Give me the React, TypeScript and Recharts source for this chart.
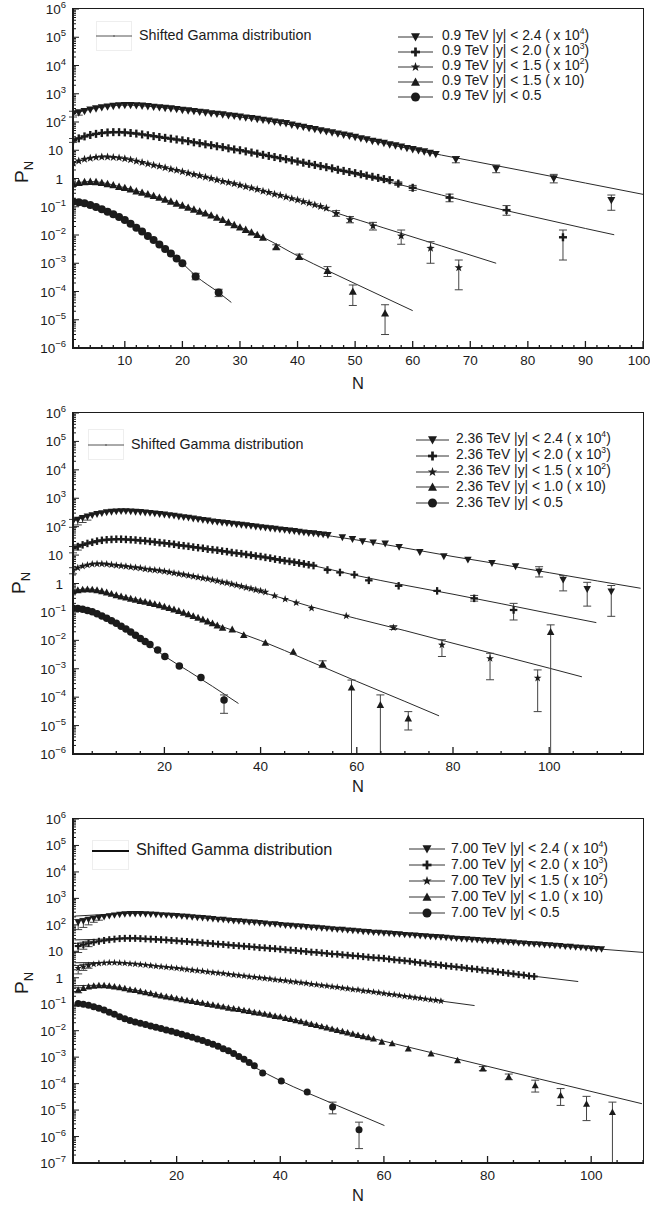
import React from "react";
import { ComposedChart, Line, Scatter, XAxis, YAxis, ErrorBar } from "recharts";

const FONT = '"Liberation Sans", Arial, Helvetica, sans-serif';
const INK = "#1b1b1b";

const run = (a: number, b: number) => Array.from({ length: b - a + 1 }, (_, i) => a + i);

// ---------- 0.9 TeV ----------
const n09a = [...run(1, 64), 67.5, 74.5, 84.5, 94.5];
const p09a = [195, 214, 240, 269, 295, 324, 347, 363, 380, 389, 389, 380, 372, 355, 339, 324, 309, 295, 282, 263, 251, 240, 224, 214, 200, 191, 182, 170, 162, 151, 141, 135, 126, 117, 110, 102, 95, 89, 79, 72, 66, 60, 55, 50, 46, 42, 38, 35, 32, 29, 26, 24, 21, 19.5, 17.8, 15.8, 14.5, 13.2, 11.7, 10.7, 9.8, 8.9, 7.9, 7.2, 4.7, 2.2, 1.0, 0.17];
const err09a = [[1, 150, 240], [2, 175, 255], [67.5, 3.6, 6.0], [74.5, 1.6, 3.0], [84.5, 0.7, 1.4], [94.5, 0.075, 0.26]];
const fit09a = [[1, 200], [5, 309], [10, 398], [15, 347], [20, 269], [30, 151], [40, 72], [50, 29], [60, 10.7], [70, 4.3], [80, 1.74], [90, 0.69], [100, 0.275]];

const n09b = [...run(1, 56), 57.5, 60, 66.4, 76.3, 86.1];
const p09b = [22.4, 26.3, 30.9, 34.7, 38.0, 40.7, 42.7, 43.7, 43.7, 42.7, 40.7, 38.9, 36.3, 33.9, 31.6, 29.5, 27.5, 25.7, 24.0, 22.4, 20.9, 19.1, 17.8, 16.2, 15.1, 13.8, 12.9, 11.7, 10.7, 10.0, 9.1, 8.3, 7.6, 6.9, 6.3, 5.75, 5.25, 4.8, 4.37, 3.98, 3.63, 3.31, 3.02, 2.75, 2.51, 2.29, 2.04, 1.86, 1.70, 1.55, 1.41, 1.26, 1.15, 1.05, 0.95, 0.87, 0.66, 0.47, 0.21, 0.076, 0.0083];
const err09b = [[1, 19, 26], [57.5, 0.57, 0.76], [60, 0.38, 0.57], [66.4, 0.15, 0.28], [76.3, 0.05, 0.11], [86.1, 0.0013, 0.015]];
const fit09b = [[1, 22.4], [5, 38], [9, 44.7], [15, 31.6], [20, 22.4], [30, 10], [40, 4.0], [50, 1.41], [60, 0.47], [70, 0.145], [80, 0.049], [90, 0.017], [95, 0.0102]];

const n09c = [...run(1, 45), 46.7, 49.1, 53.1, 58, 63.1, 68];
const p09c = [3.5, 4.2, 4.8, 5.2, 5.6, 5.8, 5.8, 5.6, 5.4, 5.0, 4.6, 4.1, 3.7, 3.3, 2.95, 2.7, 2.4, 2.14, 1.95, 1.74, 1.55, 1.38, 1.26, 1.12, 1.0, 0.89, 0.79, 0.72, 0.65, 0.58, 0.51, 0.46, 0.41, 0.355, 0.32, 0.28, 0.25, 0.22, 0.195, 0.174, 0.151, 0.135, 0.117, 0.102, 0.089, 0.058, 0.035, 0.021, 0.0092, 0.0034, 0.0007];
const err09c = [[46.7, 0.046, 0.073], [49.1, 0.027, 0.045], [53.1, 0.015, 0.028], [58, 0.0047, 0.015], [63.1, 0.001, 0.0058], [68, 0.000115, 0.0013]];
const fit09c = [[1, 3.5], [6, 5.8], [10, 5.0], [15, 2.95], [20, 1.74], [25, 1.0], [30, 0.58], [35, 0.32], [40, 0.174], [47, 0.058], [55, 0.0178], [65, 0.0041], [74.5, 0.001]];

const n09d = [...run(1, 34), 36.3, 40.3, 45.2, 49.6, 55.2];
const p09d = [0.66, 0.72, 0.76, 0.78, 0.76, 0.71, 0.65, 0.59, 0.52, 0.47, 0.42, 0.36, 0.32, 0.28, 0.245, 0.214, 0.182, 0.155, 0.132, 0.112, 0.095, 0.081, 0.069, 0.059, 0.050, 0.042, 0.035, 0.028, 0.023, 0.019, 0.0155, 0.0126, 0.0102, 0.0083, 0.0038, 0.0017, 0.00055, 1.0e-4, 1.7e-5];
const err09d = [[36.3, 0.0032, 0.0045], [40.3, 0.0014, 0.0021], [45.2, 0.00034, 0.00076], [49.6, 3.2e-5, 1.7e-4], [55.2, 3e-6, 3.4e-5]];
const fit09d = [[1, 0.66], [4, 0.78], [10, 0.47], [20, 0.112], [25, 0.05], [30, 0.019], [34, 0.0083], [40.3, 0.0017], [45.2, 5.5e-4], [50, 1.9e-4], [55, 6.3e-5], [60, 2.1e-5]];

const n09e = [...run(1, 20), 22.3, 26.3];
const p09e = [0.151, 0.145, 0.132, 0.115, 0.098, 0.081, 0.066, 0.054, 0.043, 0.034, 0.025, 0.018, 0.0132, 0.0093, 0.0066, 0.0046, 0.0032, 0.0022, 0.00148, 0.0010, 3.4e-4, 9.2e-5];
const err09e = [[22.3, 2.6e-4, 4.4e-4], [26.3, 6.6e-5, 1.2e-4]];
const fit09e = [[1, 0.151], [5, 0.098], [10, 0.034], [15, 0.0066], [20, 0.001], [22.3, 3.6e-4], [26.3, 9.2e-5], [28.5, 4.1e-5]];

// ---------- 2.36 TeV ----------
const n236a = [...run(1, 54), 57, 59.1, 61.2, 63.4, 65.9, 68.8, 73.1, 78.1, 83.1, 88.1, 93, 97.9, 102.9, 107.9, 112.9];
const p236a = [151, 174, 200, 224, 251, 275, 295, 316, 331, 339, 347, 347, 339, 331, 324, 309, 302, 288, 275, 263, 251, 240, 224, 214, 204, 191, 182, 170, 162, 151, 145, 138, 132, 126, 120, 115, 110, 105, 100, 95, 91, 87, 83, 79, 76, 72, 69, 65, 62, 59, 57.5, 55, 52.5, 50, 41.7, 36.3, 30.2, 27.5, 25.1, 19.1, 12.6, 8.9, 6.8, 5.2, 4.0, 2.6, 1.35, 0.63, 0.52];
const err236a = [[1, 95, 180], [2, 115, 200], [3, 140, 225], [4, 170, 250], [97.9, 1.7, 3.9], [102.9, 0.55, 1.9], [107.9, 0.16, 1.1], [112.9, 0.07, 0.85]];
const fit236a = [[1, 158], [5, 263], [10, 355], [13, 363], [20, 275], [30, 158], [40, 98], [50, 60], [60, 34], [70, 17.8], [80, 8.9], [90, 4.7], [100, 2.4], [110, 1.23], [119, 0.68]];

const n236b = [...run(1, 51), 53.9, 56.5, 59.5, 62.5, 68.7, 76.7, 84.4, 92.6];
const p236b = [17.4, 20.0, 22.9, 25.7, 28.2, 30.9, 33.1, 34.7, 35.5, 36.3, 36.3, 35.5, 34.7, 33.9, 32.4, 31.6, 30.2, 28.8, 27.5, 26.3, 25.1, 24.0, 22.4, 21.4, 20.4, 19.1, 18.2, 17.4, 16.2, 15.5, 14.8, 13.8, 13.2, 12.3, 11.7, 11.2, 10.5, 10.0, 9.3, 8.9, 8.3, 7.8, 7.2, 6.8, 6.3, 6.0, 5.6, 5.25, 4.9, 4.57, 4.27, 3.0, 2.45, 2.04, 1.29, 0.83, 0.55, 0.30, 0.117];
const err236b = [[1, 12, 20], [2, 15, 23], [84.4, 0.24, 0.38], [92.6, 0.052, 0.2]];
const fit236b = [[1, 17.4], [5, 28.2], [10, 36.3], [20, 26.3], [30, 15.5], [40, 8.9], [50, 4.6], [60, 1.9], [70, 0.87], [80, 0.42], [90, 0.195], [100, 0.089], [109.8, 0.042]];

const n236c = [...run(1, 41), 42.9, 45.1, 47.4, 50.6, 57.8, 67.6, 77.7, 87.7, 97.6];
const p236c = [3.0, 3.55, 4.07, 4.47, 4.79, 4.9, 4.9, 4.79, 4.57, 4.37, 4.17, 3.98, 3.8, 3.63, 3.47, 3.24, 3.09, 2.95, 2.82, 2.69, 2.51, 2.34, 2.19, 2.04, 1.91, 1.78, 1.66, 1.55, 1.45, 1.35, 1.23, 1.12, 1.05, 0.95, 0.87, 0.79, 0.72, 0.66, 0.60, 0.55, 0.50, 0.37, 0.28, 0.21, 0.135, 0.072, 0.028, 0.0069, 0.0023, 0.00047];
const err236c = [[1, 2.2, 3.6], [67.6, 0.024, 0.033], [77.7, 0.0027, 0.0105], [87.7, 0.00041, 0.0035], [97.6, 3.1e-5, 9.1e-4]];
const fit236c = [[1, 3.0], [6, 5.0], [10, 4.37], [20, 2.69], [30, 1.35], [40, 0.51], [50, 0.162], [60, 0.058], [70, 0.022], [80, 0.0079], [90, 0.0029], [100, 0.00105], [106.8, 0.00052]];

const n236d = [...run(1, 31), 32.1, 34.1, 36.5, 41, 46.8, 52.9, 58.9, 64.9, 70.7, 100.3];
const p236d = [0.55, 0.59, 0.62, 0.63, 0.62, 0.59, 0.54, 0.49, 0.44, 0.39, 0.355, 0.324, 0.295, 0.269, 0.245, 0.229, 0.209, 0.191, 0.174, 0.155, 0.138, 0.123, 0.110, 0.095, 0.083, 0.072, 0.063, 0.055, 0.047, 0.040, 0.034, 0.028, 0.0245, 0.0155, 0.0083, 0.0040, 0.0015, 0.00022, 5.4e-5, 1.8e-5, 0.020];
const err236d = [[52.9, 0.0011, 0.0019], [58.9, 1e-6, 4.0e-4], [64.9, 1e-6, 1.2e-4], [70.7, 7e-6, 3.1e-5], [100.3, 1e-6, 0.035]];
const fit236d = [[1, 0.55], [4, 0.64], [10, 0.39], [20, 0.155], [30, 0.040], [40, 0.0098], [50, 0.0019], [60, 3.6e-4], [70, 7.1e-5], [77.1, 2.2e-5]];

const n236e = [...run(1, 17), 18.6, 20.1, 23.1, 27.6, 32.4];
const p236e = [0.135, 0.132, 0.123, 0.112, 0.102, 0.087, 0.072, 0.060, 0.049, 0.040, 0.0316, 0.0251, 0.0195, 0.0151, 0.0117, 0.0091, 0.0071, 0.0046, 0.0027, 0.00126, 0.00049, 7.9e-5];
const err236e = [[32.4, 2.7e-5, 1.2e-4]];
const fit236e = [[1, 0.135], [5, 0.102], [10, 0.040], [15, 0.0117], [20, 0.0028], [25, 8.3e-4], [30, 2.4e-4], [35.4, 6.0e-5]];

// ---------- 7.00 TeV ----------
const n700a = run(1, 102);
const p700a = [123, 138, 155, 170, 186, 200, 214, 229, 240, 251, 257, 257, 257, 251, 245, 240, 234, 229, 224, 219, 209, 204, 195, 186, 182, 174, 166, 158, 155, 148, 141, 138, 132, 126, 123, 117, 112, 107, 105, 100, 95, 93, 89, 87, 83, 79, 78, 74, 72, 69, 66, 65, 62, 60, 58, 55, 54, 51, 50, 48, 47, 45, 44, 42, 41, 40, 38, 37, 35.5, 34.7, 33.9, 32.4, 31.6, 30.2, 29.5, 28.8, 27.5, 26.9, 25.7, 25.1, 24.5, 23.4, 22.9, 21.9, 21.4, 20.4, 20.0, 19.1, 18.6, 18.2, 17.4, 17.0, 16.2, 15.8, 15.1, 14.8, 14.1, 13.8, 13.2, 12.9, 12.3, 12.0];
const err700a = [[1, 66, 160], [2, 80, 175], [3, 100, 190], [4, 125, 205], [5, 150, 215]];
const fit700a = [[0.3, 214], [5, 240], [10, 269], [14, 275], [20, 224], [30, 148], [40, 100], [60, 49], [80, 25.1], [100, 12.9], [110, 9.1]];

const n700b = run(1, 89);
const p700b = [15.8, 17.8, 20.0, 21.9, 24.0, 25.7, 27.5, 28.8, 30.2, 30.9, 30.9, 30.9, 30.2, 29.5, 28.8, 28.2, 27.5, 26.9, 25.7, 25.1, 24.0, 23.4, 22.4, 21.9, 20.9, 20.0, 19.5, 18.6, 18.2, 17.4, 16.6, 16.2, 15.5, 15.1, 14.5, 13.8, 13.5, 12.9, 12.6, 12.0, 11.5, 11.0, 10.7, 10.2, 9.8, 9.3, 9.1, 8.7, 8.3, 7.9, 7.8, 7.4, 7.1, 6.8, 6.6, 6.3, 6.0, 5.75, 5.6, 5.4, 5.1, 4.8, 4.6, 4.4, 4.2, 3.9, 3.7, 3.55, 3.3, 3.16, 3.0, 2.8, 2.7, 2.57, 2.45, 2.29, 2.19, 2.09, 1.95, 1.86, 1.78, 1.66, 1.58, 1.48, 1.41, 1.32, 1.26, 1.17, 1.12];
const err700b = [[1, 9, 20], [2, 12, 22], [3, 15, 24]];
const fit700b = [[0.3, 27], [4, 28], [8, 30.5], [12, 31.6], [20, 25.7], [40, 12], [60, 5.4], [80, 1.86], [97.5, 0.72]];

const n700c = run(1, 71);
const p700c = [2.29, 2.63, 2.95, 3.24, 3.47, 3.63, 3.72, 3.72, 3.63, 3.55, 3.39, 3.31, 3.16, 3.02, 2.88, 2.75, 2.63, 2.51, 2.40, 2.29, 2.19, 2.04, 1.95, 1.86, 1.78, 1.66, 1.58, 1.51, 1.45, 1.35, 1.29, 1.23, 1.17, 1.10, 1.05, 1.0, 0.95, 0.91, 0.85, 0.81, 0.78, 0.72, 0.69, 0.65, 0.62, 0.575, 0.55, 0.51, 0.49, 0.46, 0.44, 0.41, 0.39, 0.36, 0.35, 0.32, 0.31, 0.29, 0.275, 0.257, 0.24, 0.23, 0.214, 0.20, 0.19, 0.178, 0.17, 0.158, 0.148, 0.141, 0.132];
const err700c = [[1, 1.4, 2.9], [2, 1.9, 3.2], [3, 2.3, 3.4]];
const fit700c = [[0.3, 3.7], [7, 3.8], [20, 2.29], [40, 0.81], [60, 0.257], [77.5, 0.089]];

const n700d = [...run(1, 58), 59.6, 61.6, 64.7, 69.1, 74.2, 79.1, 84.1, 89.2, 94.1, 99.1, 104.1];
const p700d = [0.35, 0.41, 0.47, 0.50, 0.52, 0.52, 0.50, 0.47, 0.44, 0.40, 0.36, 0.34, 0.31, 0.28, 0.26, 0.234, 0.214, 0.195, 0.182, 0.166, 0.155, 0.141, 0.132, 0.120, 0.112, 0.102, 0.095, 0.087, 0.081, 0.074, 0.069, 0.065, 0.059, 0.055, 0.050, 0.047, 0.043, 0.040, 0.036, 0.034, 0.030, 0.0275, 0.0245, 0.0224, 0.020, 0.0178, 0.0162, 0.0145, 0.0132, 0.0117, 0.0105, 0.0095, 0.0085, 0.0076, 0.0069, 0.0062, 0.0056, 0.0050, 0.0038, 0.0033, 0.0021, 0.00138, 7.6e-4, 3.7e-4, 1.8e-4, 8.7e-5, 3.6e-5, 1.74e-5, 8.5e-6];
const err700d = [[1, 0.27, 0.42], [79.1, 3.1e-4, 4.4e-4], [84.1, 1.4e-4, 2.3e-4], [89.2, 4.8e-5, 1.35e-4], [94.1, 1.5e-5, 6.5e-5], [99.1, 4e-6, 3.3e-5], [104.1, 1e-7, 2.0e-5]];
const fit700d = [[0.3, 0.5], [5, 0.52], [10, 0.40], [20, 0.166], [40, 0.034], [58, 0.005], [70, 0.00135], [90, 1.5e-4], [109.8, 1.74e-5]];

const n700e = [...run(1, 35), 36.6, 40.2, 45.2, 50.1, 55.2];
const p700e = [0.107, 0.100, 0.091, 0.081, 0.071, 0.060, 0.050, 0.042, 0.034, 0.028, 0.0245, 0.0214, 0.019, 0.017, 0.0151, 0.0135, 0.012, 0.0107, 0.0095, 0.0083, 0.0074, 0.0065, 0.0056, 0.0049, 0.0043, 0.0036, 0.0031, 0.0026, 0.0021, 0.00174, 0.00138, 0.00107, 0.00083, 0.00063, 0.00047, 2.5e-4, 1.26e-4, 4.8e-5, 1.3e-5, 1.8e-6];
const err700e = [[50.1, 7.2e-6, 2.0e-5], [55.2, 3.5e-7, 3.5e-6]];
const fit700e = [[0.3, 0.112], [5, 0.071], [10, 0.028], [20, 0.0083], [30, 0.0017], [35, 4.2e-4], [40, 1.3e-4], [50, 1.8e-5], [60.1, 2.6e-6]];

// legend texts
const legend09 = [
  ["0.9 TeV |y| < 2.4 ( x 10", "4", ")"],
  ["0.9 TeV |y| < 2.0 ( x 10", "3", ")"],
  ["0.9 TeV |y| < 1.5 ( x 10", "2", ")"],
  ["0.9 TeV |y| < 1.5 ( x 10)", "", ""],
  ["0.9 TeV |y| < 0.5", "", ""],
];
const legend236 = [
  ["2.36 TeV |y| < 2.4 ( x 10", "4", ")"],
  ["2.36 TeV |y| < 2.0 ( x 10", "3", ")"],
  ["2.36 TeV |y| < 1.5 ( x 10", "2", ")"],
  ["2.36 TeV |y| < 1.0 ( x 10)", "", ""],
  ["2.36 TeV |y| < 0.5", "", ""],
];
const legend700 = [
  ["7.00 TeV |y| < 2.4 ( x 10", "4", ")"],
  ["7.00 TeV |y| < 2.0 ( x 10", "3", ")"],
  ["7.00 TeV |y| < 1.5 ( x 10", "2", ")"],
  ["7.00 TeV |y| < 1.0 ( x 10)", "", ""],
  ["7.00 TeV |y| < 0.5", "", ""],
];

const kinds = ["down", "plus", "star", "up", "circle"];

function Marker({ kind, cx, cy, s }: { kind: string; cx: number; cy: number; s: number }) {
  if (cx == null || cy == null) return <g />;
  if (kind === "down")
    return <polygon points={`${cx - s / 2},${cy - s * 0.42} ${cx + s / 2},${cy - s * 0.42} ${cx},${cy + s * 0.5}`} fill={INK} />;
  if (kind === "up")
    return <polygon points={`${cx - s / 2},${cy + s * 0.42} ${cx + s / 2},${cy + s * 0.42} ${cx},${cy - s * 0.5}`} fill={INK} />;
  if (kind === "plus")
    return (
      <g fill={INK}>
        <rect x={cx - s / 2} y={cy - s * 0.15} width={s} height={s * 0.3} />
        <rect x={cx - s * 0.15} y={cy - s / 2} width={s * 0.3} height={s} />
      </g>
    );
  if (kind === "star") {
    const pts: string[] = [];
    for (let i = 0; i < 10; i++) {
      const a = (-90 + i * 36) * (Math.PI / 180);
      const r = i % 2 === 0 ? s * 0.55 : s * 0.22;
      pts.push(`${cx + r * Math.cos(a)},${cy + r * Math.sin(a)}`);
    }
    return <polygon points={pts.join(" ")} fill={INK} />;
  }
  return <circle cx={cx} cy={cy} r={s / 2} fill={INK} />;
}

const toPts = (n: number[], p: number[]) => n.map((x, i) => ({ n: x, p: p[i] }));
const toBars = (e: number[][]) => e.map(([x, lo, hi]) => ({ n: x, p: hi, err: [hi - lo, 0] }));
const toFit = (f: number[][]) => f.map(([x, y]) => ({ n: x, p: y }));

const panels = [
  {
    top: 0, height: 390, T: 9, B: 348, xDomain: [1, 100], yMin: -6, xStep: 2, xMajor: 10, xMax: 100, size: 8,
    series: [[n09a, p09a, err09a, fit09a], [n09b, p09b, err09b, fit09b], [n09c, p09c, err09c, fit09c], [n09d, p09d, err09d, fit09d], [n09e, p09e, err09e, fit09e]],
    legend: legend09, legFont: 13.8,
    gamma: { x: 96, y: 21, w: 36, h: 30, ly: 36, tx: 139, fs: 14.3, thick: false },
    leg: { y0: 36.5, dy: 15.1, x1: 398, x2: 433, tx: 442 },
    ptitle: { x: 22, y: 172 }, ntitle: 383,
  },
  {
    top: 390, height: 400, T: 23, B: 364, xDomain: [1, 119.5], yMin: -6, xStep: 5, xMajor: 20, xMax: 119, size: 7.5,
    series: [[n236a, p236a, err236a, fit236a], [n236b, p236b, err236b, fit236b], [n236c, p236c, err236c, fit236c], [n236d, p236d, err236d, fit236d], [n236e, p236e, err236e, fit236e]],
    legend: legend236, legFont: 13.8,
    gamma: { x: 88, y: 39, w: 36, h: 31, ly: 54.5, tx: 131, fs: 14.3, thick: false },
    leg: { y0: 50, dy: 15.8, x1: 416, x2: 449, tx: 456 },
    ptitle: { x: 19, y: 193 }, ntitle: 396,
  },
  {
    top: 790, height: 417, T: 29, B: 373, xDomain: [0, 110], yMin: -7, xStep: 5, xMajor: 20, xMax: 110, size: 7,
    series: [[n700a, p700a, err700a, fit700a], [n700b, p700b, err700b, fit700b], [n700c, p700c, err700c, fit700c], [n700d, p700d, err700d, fit700d], [n700e, p700e, err700e, fit700e]],
    legend: legend700, legFont: 14,
    gamma: { x: 92, y: 50, w: 37, h: 30, ly: 60.5, tx: 136, fs: 16.3, thick: true },
    leg: { y0: 59, dy: 16, x1: 409, x2: 445, tx: 451 },
    ptitle: { x: 22, y: 193 }, ntitle: 405,
  },
];

const LEFT = 73;
const RIGHT = 643;

function Panel({ cfg }: { cfg: any }) {
  const xTicks: number[] = [];
  for (let v = cfg.xStep; v <= cfg.xMax + 1e-9; v += cfg.xStep) xTicks.push(v);
  const yTicks: number[] = [];
  for (let e = cfg.yMin; e <= 6; e++) {
    yTicks.push(Math.pow(10, e));
    if (e < 6) for (let k = 2; k <= 9; k++) yTicks.push(Number((k * Math.pow(10, e)).toPrecision(3)));
  }

  const XTick = (props: any) => {
    const { x, payload } = props;
    const v = payload.value;
    const major = Math.abs(v % cfg.xMajor) < 1e-6;
    // keep the last label inside the page
    const lx = Math.min(x, 650 - 11);
    return (
      <g>
        <line x1={x} x2={x} y1={cfg.B} y2={cfg.B - (major ? 7 : 3)} stroke={INK} strokeWidth={1.3} />
        {major && (
          <text x={lx} y={cfg.B + 17} textAnchor="middle" fontSize={13.5} fill={INK} fontFamily={FONT}>
            {v}
          </text>
        )}
      </g>
    );
  };

  const YTick = (props: any) => {
    const { y, payload } = props;
    const v = payload.value;
    const lg = Math.log10(v);
    const major = Math.abs(lg - Math.round(lg)) < 1e-6;
    const e = Math.round(lg);
    return (
      <g>
        <line x1={LEFT} x2={LEFT + (major ? 6 : 3)} y1={y} y2={y} stroke={INK} strokeWidth={1} />
        {major &&
          (e === 0 || e === 1 ? (
            <text x={63} y={y + 5} textAnchor="end" fontSize={13.5} fill={INK} fontFamily={FONT}>
              {e === 0 ? "1" : "10"}
            </text>
          ) : (
            <text x={66} y={y + 5} textAnchor="end" fontSize={13.5} fill={INK} fontFamily={FONT}>
              10
              <tspan dy={-6} fontSize={9.5}>
                {e < 0 ? `\u2212${-e}` : `${e}`}
              </tspan>
            </text>
          ))}
      </g>
    );
  };

  const g = cfg.gamma;
  const L = cfg.leg;

  return (
    <div style={{ position: "absolute", left: 0, top: cfg.top, width: 650, height: cfg.height }}>
      <ComposedChart
        width={650}
        height={cfg.height}
        margin={{ top: cfg.T, right: 650 - RIGHT, bottom: cfg.height - cfg.B - 30, left: 13 }}
      >
        <XAxis
          type="number"
          dataKey="n"
          domain={cfg.xDomain}
          allowDataOverflow
          ticks={xTicks}
          interval={0}
          tick={XTick}
          tickLine={false}
          axisLine={false}
          height={30}
          tickSize={0}
          tickMargin={0}
        />
        <YAxis
          type="number"
          dataKey="p"
          scale="log"
          domain={[Math.pow(10, cfg.yMin), 1e6]}
          allowDataOverflow
          ticks={yTicks}
          interval={0}
          tick={YTick}
          tickLine={false}
          axisLine={false}
          width={60}
          tickSize={0}
          tickMargin={0}
        />
        {cfg.series.map((s: any, i: number) => (
          <Line
            key={`fit-${i}`}
            data={toFit(s[3])}
            dataKey="p"
            type="monotone"
            stroke="#2a2a2a"
            strokeWidth={1}
            dot={false}
            activeDot={false}
            isAnimationActive={false}
          />
        ))}
        {cfg.series.map((s: any, i: number) => (
          <Scatter key={`err-${i}`} data={toBars(s[2])} shape={() => <g />} isAnimationActive={false}>
            <ErrorBar dataKey="err" direction="y" width={4} stroke="#444" strokeWidth={1} />
          </Scatter>
        ))}
        {cfg.series.map((s: any, i: number) => (
          <Scatter
            key={`pts-${i}`}
            data={toPts(s[0], s[1])}
            isAnimationActive={false}
            shape={(p: any) => <Marker kind={kinds[i]} cx={p.cx} cy={p.cy} s={cfg.size} />}
          />
        ))}
      </ComposedChart>

      {/* plot frame */}
      <div
        style={{
          position: "absolute",
          left: LEFT - 1,
          top: cfg.T - 1,
          width: RIGHT - LEFT + 2,
          height: cfg.B - cfg.T + 2,
          boxSizing: "border-box",
          borderLeft: `2px solid ${INK}`,
          borderBottom: `2px solid ${INK}`,
          borderTop: `1.5px solid ${INK}`,
          borderRight: `1.5px solid ${INK}`,
        }}
      />

      {/* shifted gamma legend */}
      <div
        style={{
          position: "absolute",
          left: g.x,
          top: g.y,
          width: g.w,
          height: g.h,
          boxSizing: "border-box",
          border: "1px solid #eeeeee",
        }}
      />
      <svg style={{ position: "absolute", left: g.x, top: g.ly - 4 }} width={g.w} height={8}>
        <line x1={0} x2={g.w} y1={4} y2={4} stroke={g.thick ? "#111" : "#555"} strokeWidth={g.thick ? 2 : 1} />
        {!g.thick && <line x1={g.w / 2} x2={g.w / 2} y1={3} y2={5} stroke="#555" strokeWidth={1} />}
      </svg>
      <div
        style={{
          position: "absolute",
          left: g.tx,
          top: g.ly - g.fs * 0.62,
          fontSize: g.fs,
          lineHeight: `${g.fs * 1.2}px`,
          whiteSpace: "nowrap",
          color: INK,
        }}
      >
        Shifted Gamma distribution
      </div>

      {/* series legend */}
      {cfg.legend.map((row: string[], i: number) => {
        const y = L.y0 + i * L.dy;
        return (
          <React.Fragment key={`leg-${i}`}>
            <svg style={{ position: "absolute", left: L.x1, top: y - 6 }} width={L.x2 - L.x1} height={12}>
              <line x1={0} x2={L.x2 - L.x1} y1={6} y2={6} stroke="#333" strokeWidth={1} />
              <Marker kind={kinds[i]} cx={(L.x2 - L.x1) / 2} cy={6} s={9} />
            </svg>
            <div
              style={{
                position: "absolute",
                left: L.tx,
                top: y - cfg.legFont * 0.62,
                fontSize: cfg.legFont,
                lineHeight: `${cfg.legFont * 1.2}px`,
                whiteSpace: "nowrap",
                color: INK,
              }}
            >
              {row[0]}
              {row[1] && (
                <span style={{ fontSize: "0.62em", position: "relative", top: "-0.75em" }}>{row[1]}</span>
              )}
              {row[2]}
            </div>
          </React.Fragment>
        );
      })}

      {/* axis titles */}
      <div
        style={{
          position: "absolute",
          left: cfg.ptitle.x - 30,
          top: cfg.ptitle.y - 12,
          width: 60,
          height: 24,
          lineHeight: "24px",
          textAlign: "center",
          transform: "rotate(-90deg)",
          fontSize: 19,
          color: INK,
          whiteSpace: "nowrap",
        }}
      >
        P<span style={{ fontSize: 13, position: "relative", top: 5 }}>N</span>
      </div>
      <div
        style={{
          position: "absolute",
          left: (LEFT + RIGHT) / 2 - 20,
          top: cfg.ntitle - 11,
          width: 40,
          lineHeight: "22px",
          textAlign: "center",
          fontSize: 16.5,
          color: INK,
        }}
      >
        N
      </div>
    </div>
  );
}

export default function App() {
  return (
    <div
      style={{
        position: "absolute",
        left: 0,
        top: 0,
        width: 650,
        height: 1207,
        background: "#fff",
        fontFamily: FONT,
        overflow: "hidden",
      }}
    >
      {panels.map((cfg, i) => (
        <Panel key={i} cfg={cfg} />
      ))}
    </div>
  );
}
